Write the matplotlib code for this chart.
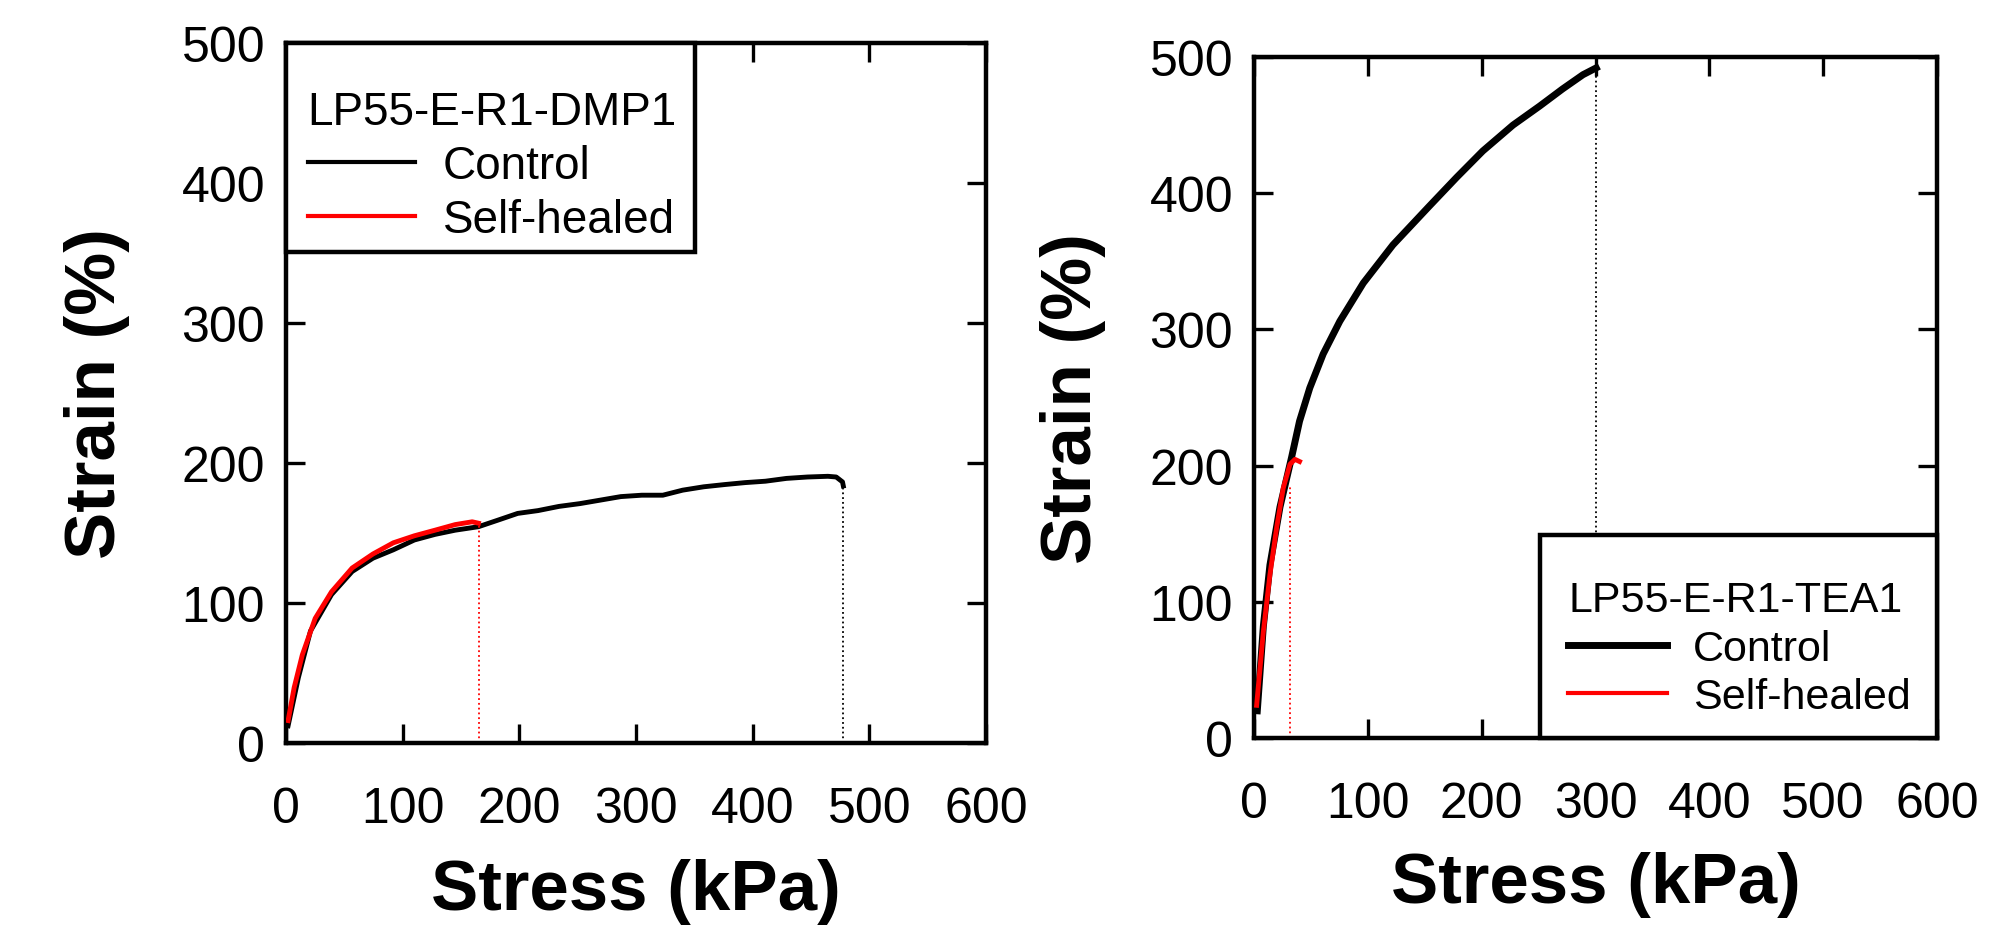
import matplotlib
matplotlib.use("Agg")
import matplotlib.pyplot as plt
from matplotlib.lines import Line2D
from matplotlib.patches import Rectangle

plt.rcParams['font.family'] = ['Liberation Sans', 'DejaVu Sans']

# --- LP55-E-R1-DMP1 (left panel) ---
dmp_ctrl_stress = [1.8, 10.6, 21, 39, 56.7, 74.5, 92, 110, 127.7, 145, 165, 181, 198.6, 216, 234,
                   252, 269.5, 287, 305, 323, 340, 358, 376, 393.6, 411, 429, 447, 464.5, 471.6,
                   477, 477.7]
dmp_ctrl_strain = [12.3, 46.7, 80, 106, 122.5, 132, 138, 145, 149, 152, 154.5, 159, 164, 166, 169,
                   171, 173.5, 176, 177, 177, 180.6, 183, 184.6, 186, 187, 189, 190, 190.5, 190,
                   186.5, 183.6]
dmp_heal_stress = [1.8, 7, 14, 25, 39, 56.7, 74.5, 92, 110, 127.7, 145, 159.6, 165]
dmp_heal_strain = [16, 39.6, 63, 89, 108, 125, 135, 143, 148, 152, 156, 158, 157]
dmp_break_stress = [477.7, 165.6]   # control, self-healed
dmp_break_strain = [183.6, 157]

# --- LP55-E-R1-TEA1 (right panel) ---
tea_ctrl_stress = [2.9, 8.2, 14, 22.8, 33, 40, 49, 60.8, 75.4, 96, 122, 154, 178, 201, 227.5,
                   251, 271, 289, 300.6]
tea_ctrl_strain = [20, 82, 127, 169.5, 206, 232.6, 257, 282, 306, 334, 362, 390.5, 411.6, 431,
                   450, 464, 476.5, 487, 492]
tea_heal_stress = [2.3, 8.2, 14, 20, 25.7, 31.6, 36, 40]
tea_heal_strain = [24, 78, 120, 155, 183.5, 201, 204.6, 203]
tea_break_stress = [300.6, 31.6]
tea_break_strain = [492, 185]

x_ticks = [0, 100, 200, 300, 400, 500, 600]
y_ticks = [0, 100, 200, 300, 400, 500]
labels = ['Control', 'Self-healed']

W, H = 2003, 929
fig = plt.figure(figsize=(W / 100, H / 100), dpi=100)


def px_axes(left, top, right, bottom):
    return fig.add_axes([left / W, 1 - bottom / H, (right - left) / W, (bottom - top) / H])


def style_axes(ax, ylab_x, xlab_y):
    ax.set_xlim(0, 600)
    ax.set_ylim(0, 500)
    ax.set_xticks(x_ticks)
    ax.set_yticks(y_ticks)
    for s in ax.spines.values():
        s.set_linewidth(3.2)
    ax.tick_params(direction='in', length=14, width=2.4, top=True, right=True, labelsize=36)
    ax.tick_params(axis='x', pad=31)
    ax.tick_params(axis='y', pad=15)
    ax.set_xlabel('Stress (kPa)', fontsize=51, fontweight='bold', va='center')
    ax.set_ylabel('Strain (%)', fontsize=51, fontweight='bold', va='center')
    ax.xaxis.set_label_coords(0.5, xlab_y)
    ax.yaxis.set_label_coords(ylab_x, 0.5)


def draw_legend(ax, title, box, anchor, ctrl_lw, heal_lw, size, spacing, hlen):
    ax.add_patch(Rectangle(box[:2], box[2], box[3], transform=ax.transAxes, facecolor='white',
                           edgecolor='black', linewidth=3.2, zorder=5, clip_on=False))
    handles = [Line2D([], [], color='black', lw=ctrl_lw), Line2D([], [], color='red', lw=heal_lw)]
    leg = ax.legend(handles, labels, title=title, loc='upper left', bbox_to_anchor=anchor,
                    frameon=False, fontsize=size, title_fontsize=size, alignment='left',
                    borderpad=0, borderaxespad=0, labelspacing=spacing, handlelength=hlen,
                    handletextpad=0.6)
    leg.set_zorder(6)


# left panel
ax1 = px_axes(286, 44, 986, 744)
ax1.plot(dmp_ctrl_stress, dmp_ctrl_strain, color='black', lw=3.5, zorder=2)
ax1.plot(dmp_heal_stress, dmp_heal_strain, color='red', lw=3.5, zorder=3)
ax1.vlines(dmp_break_stress, 0, dmp_break_strain, colors=['black', 'red'], linestyles=':', lw=1.3)
style_axes(ax1, -0.27, -0.211)
draw_legend(ax1, 'LP55-E-R1-DMP1', (0.0, 0.701, 0.584, 0.299), (0.031, 0.933), 3.0, 3.0,
            33, 0.22, 2.35)

# right panel
ax2 = px_axes(1254, 58, 1937, 739)
ax2.plot(tea_ctrl_stress, tea_ctrl_strain, color='black', lw=5, zorder=2)
ax2.plot(tea_heal_stress, tea_heal_strain, color='red', lw=3.5, zorder=3)
ax2.vlines(tea_break_stress, 0, tea_break_strain, colors=['black', 'red'], linestyles=':', lw=1.3)
style_axes(ax2, -0.265, -0.215)
draw_legend(ax2, 'LP55-E-R1-TEA1', (0.419, 0.0, 0.581, 0.298), (0.46, 0.232), 5.0, 3.0,
            31, 0.2, 2.3)

fig.savefig('out.png', dpi=100)
